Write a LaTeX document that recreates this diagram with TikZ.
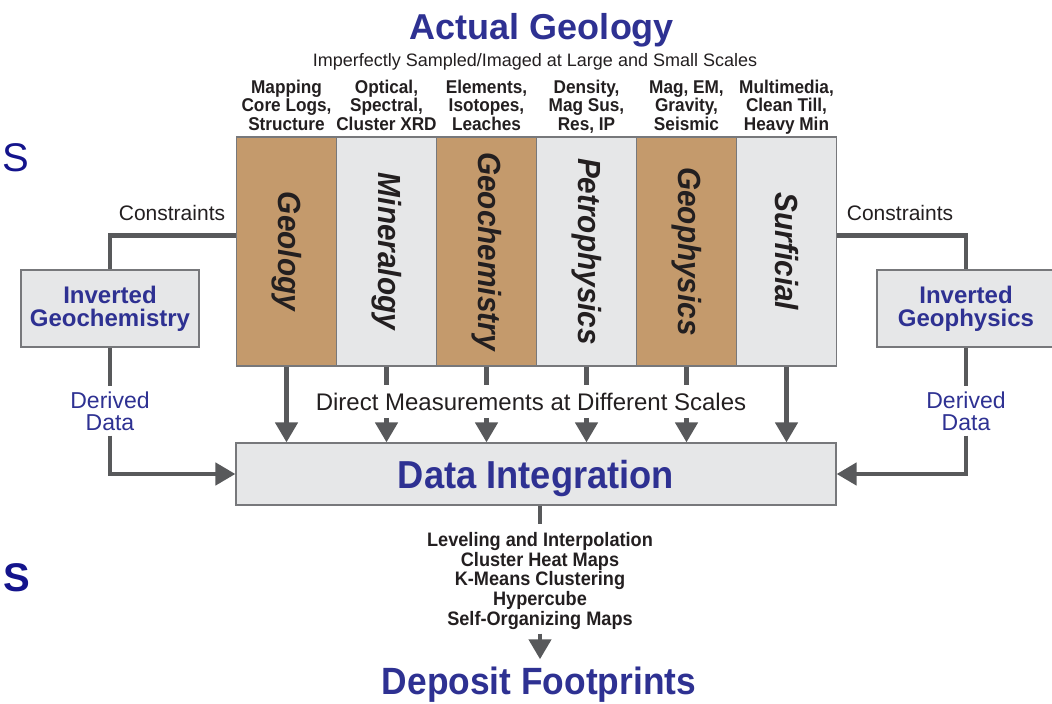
\documentclass[tikz,border=0pt]{standalone}
\usepackage{fontspec}
\setmainfont{Liberation Sans}
\newfontfamily\narrow[FakeStretch=0.93]{Liberation Sans}
\usetikzlibrary{arrows.meta}
\definecolor{brn}{HTML}{C49A6C}
\definecolor{gry}{HTML}{E6E7E8}
\definecolor{bdr}{HTML}{77787B}
\definecolor{arr}{HTML}{58595B}
\definecolor{blu}{HTML}{2E3192}
\definecolor{ink}{HTML}{231F20}
\definecolor{navy}{HTML}{14148C}
\tikzset{
  colbox/.style={draw=bdr, line width=1.2pt, minimum width=100pt, minimum height=229pt, inner sep=0pt, text=ink, font=\narrow\bfseries\itshape\fontsize{32}{32}\selectfont},
  toplab/.style={align=center, text=ink, inner sep=0pt, text depth=0pt, font=\narrow\bfseries\fontsize{18.5}{18.5}\selectfont},
  sidebox/.style={draw=bdr, line width=1.2pt, fill=gry, minimum width=178pt, minimum height=77pt, inner sep=0pt, align=center, text=blu, font=\bfseries\fontsize{24}{23}\selectfont},
  plainlab/.style={text=ink, inner sep=0pt, font=\fontsize{21}{21}\selectfont},
  derived/.style={align=center, text=blu, inner xsep=0pt, inner ysep=5pt, font=\fontsize{23}{22}\selectfont},
  ln/.style={draw=arr, line width=4.5pt},
  arrw/.style={ln, -{Triangle[width=22pt,length=20pt]}},
}
\begin{document}
\begin{tikzpicture}[x=1pt,y=-1pt]
\useasboundingbox (0,0) rectangle (1052,704);
% stray letters at the left edge
\node[anchor=base west, inner sep=0pt, text=navy, font=\fontsize{40}{40}\selectfont] (s1) at (2,171) {S};
\node[anchor=base west, inner sep=0pt, text=navy, font=\bfseries\fontsize{40}{40}\selectfont] (s2) at (3,591) {S};
% title
\node[anchor=base, inner sep=0pt, text=blu, font=\bfseries\fontsize{36}{36}\selectfont] (title) at (542,39) {Actual Geology};
\node[anchor=base, inner sep=0pt, text=ink, font=\fontsize{18}{18}\selectfont] (sub) at (535,66) {Imperfectly Sampled/Imaged at Large and Small Scales};
% columns
\node[colbox, fill=brn] (c1) at (286.5,251.5) {\rotatebox{-90}{Geology}};
\node[colbox, fill=gry] (c2) at (386.5,251.5) {\rotatebox{-90}{Mineralogy}};
\node[colbox, fill=brn] (c3) at (486.5,251.5) {\rotatebox{-90}{Geochemistry}};
\node[colbox, fill=gry] (c4) at (586.5,251.5) {\rotatebox{-90}{Petrophysics}};
\node[colbox, fill=brn] (c5) at (686.5,251.5) {\rotatebox{-90}{Geophysics}};
\node[colbox, fill=gry] (c6) at (786.5,251.5) {\rotatebox{-90}{Surficial}};
% labels above columns
\node[toplab, anchor=south] (t1) at ([yshift=6pt]c1.north) {Mapping\\Core Logs,\\Structure};
\node[toplab, anchor=south] (t2) at ([yshift=6pt]c2.north) {Optical,\\Spectral,\\Cluster XRD};
\node[toplab, anchor=south] (t3) at ([yshift=6pt]c3.north) {Elements,\\Isotopes,\\Leaches};
\node[toplab, anchor=south] (t4) at ([yshift=6pt]c4.north) {Density,\\Mag Sus,\\Res, IP};
\node[toplab, anchor=south] (t5) at ([yshift=6pt]c5.north) {Mag, EM,\\Gravity,\\Seismic};
\node[toplab, anchor=south] (t6) at ([yshift=6pt]c6.north) {Multimedia,\\Clean Till,\\Heavy Min};
% side boxes
\node[sidebox] (igc) at (110,308.5) {Inverted\\Geochemistry};
\node[sidebox] (igp) at (966,308.5) {Inverted\\Geophysics};
\node[plainlab, anchor=base] (k1) at (172,220) {Constraints};
\node[plainlab, anchor=base] (k2) at (900,220) {Constraints};
\node[derived] (dd1) at (110,411) {Derived\\Data};
\node[derived] (dd2) at (966,411) {Derived\\Data};
% data integration
\node[draw=bdr, line width=1.2pt, fill=gry, minimum width=600pt, minimum height=62pt, inner sep=0pt, text depth=0pt, text=blu, font=\narrow\bfseries\fontsize{39}{39}\selectfont] (di) at (536,474) {Data Integration};
\node[anchor=base, text=ink, inner xsep=0pt, inner ysep=7.5pt, font=\fontsize{24}{24}\selectfont] (dm) at (531,410) {Direct Measurements at Different Scales};
% bottom
\node[anchor=north, align=center, text=ink, inner xsep=0pt, inner ysep=4pt, font=\narrow\bfseries\fontsize{19.5}{19.75}\selectfont] (bl) at (540,528) {Leveling and Interpolation\\Cluster Heat Maps\\K-Means Clustering\\Hypercube\\Self-Organizing Maps};
\node[anchor=base, inner xsep=0pt, inner ysep=7pt, text depth=0pt, text=blu, font=\narrow\bfseries\fontsize{38}{38}\selectfont] (dfp) at (539,694) {Deposit Footprints};
% connectors
\draw[ln] ([yshift=-99pt]c1.north west) -| (igc.north);
\draw[ln] ([yshift=-99pt]c6.north east) -| (igp.north);
\draw[ln] (igc.south) -- (dd1.north);
\draw[ln] (igp.south) -- (dd2.north);
\draw[arrw] (dd1.south) |- (di.west);
\draw[arrw] (dd2.south) |- (di.east);
\draw[arrw] (c1.south) -- (c1.south |- di.north);
\draw[arrw] (c6.south) -- (c6.south |- di.north);
\foreach \c in {c2,c3,c4,c5}{
  \draw[ln] (\c.south) -- (\c.south |- dm.north);
  \draw[arrw] (\c.south |- dm.south) -- (\c.south |- di.north);
}
\draw[ln] (bl.north |- di.south) -- ([yshift=4pt]bl.north);
\draw[arrw] (bl.south) -- (bl.south |- dfp.north);
\end{tikzpicture}
\end{document}
